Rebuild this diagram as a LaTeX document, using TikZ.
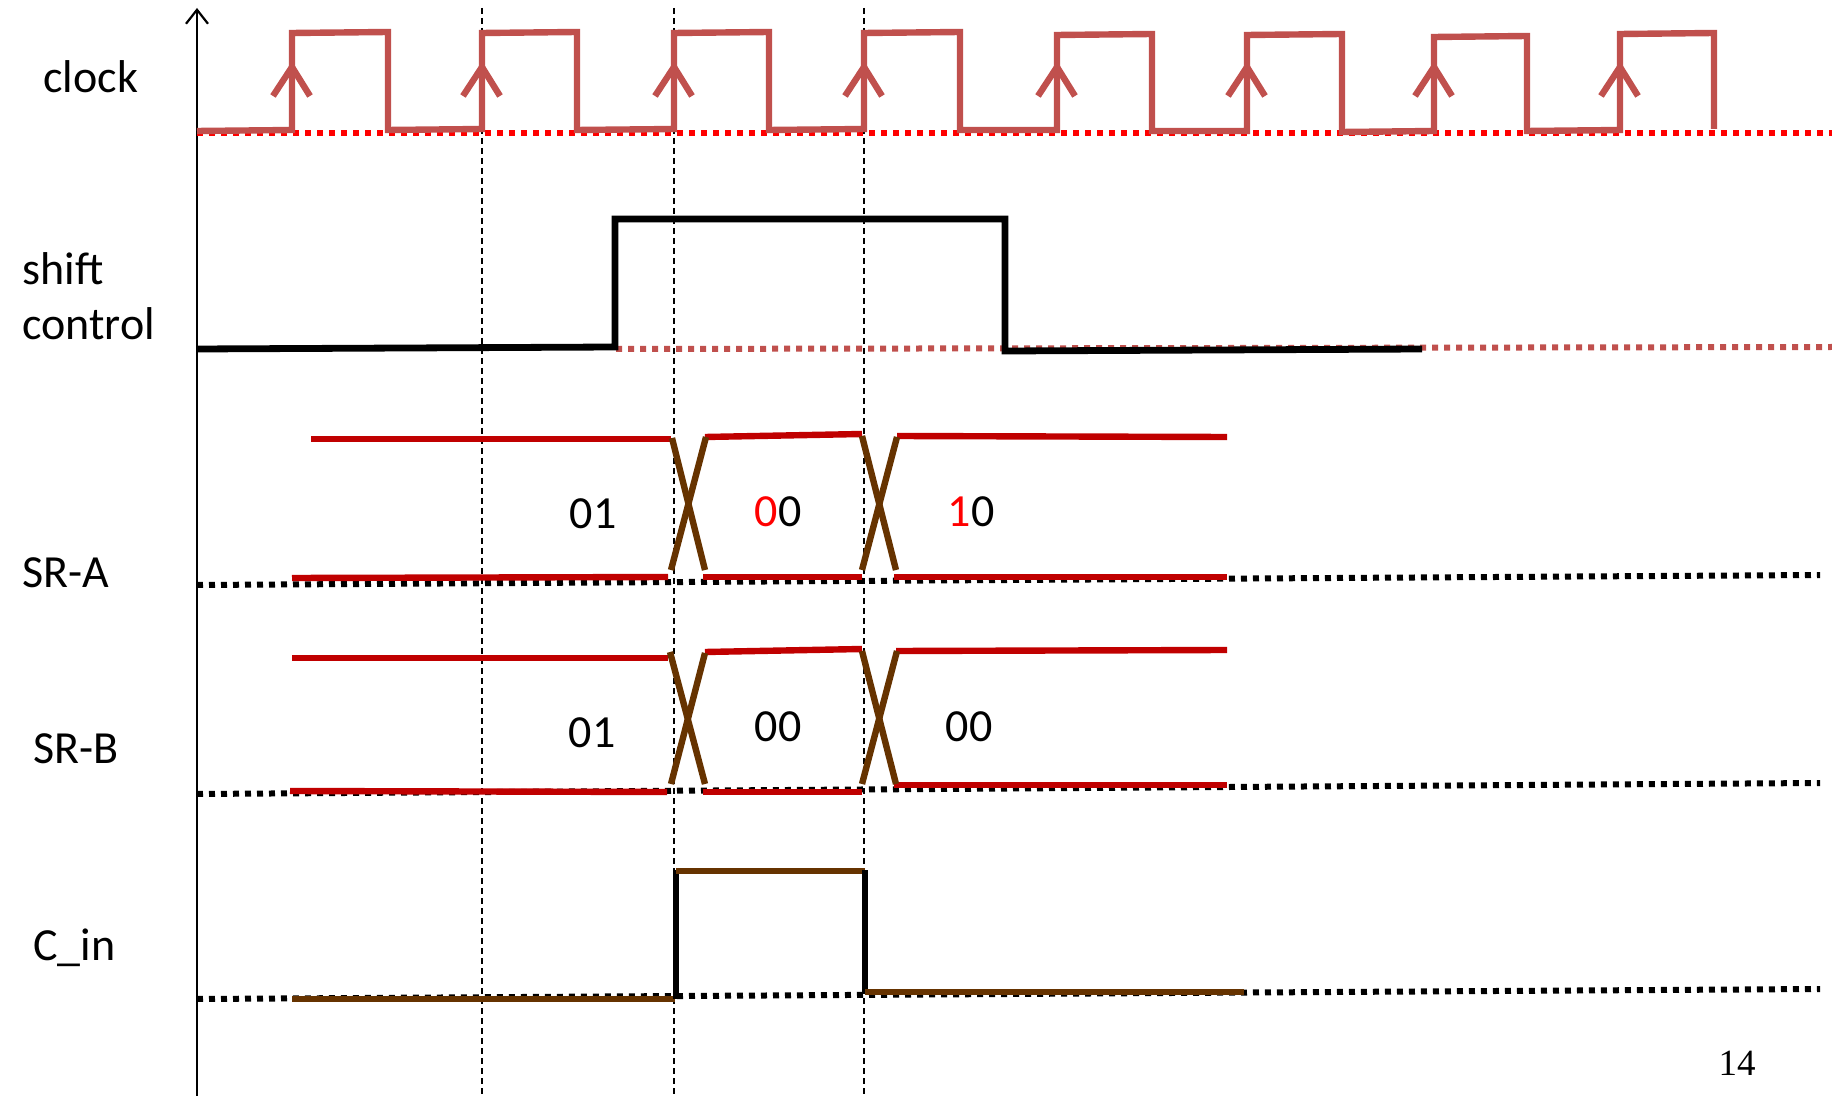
\documentclass[tikz,border=0pt]{standalone}
\usepackage{fontspec}
\setmainfont{Carlito}
\newfontfamily\timesfont{Liberation Serif}
\usetikzlibrary{arrows.meta}
\definecolor{clk}{HTML}{C0504D}
\definecolor{srred}{HTML}{C00000}
\definecolor{brn}{HTML}{663300}
\definecolor{dotred}{HTML}{FF0000}
\tikzset{
  sig/.style={line width=3.2pt},
  clkline/.style={sig, clk, line join=miter},
  srline/.style={sig, srred},
  crossline/.style={sig, brn},
  baseline dots/.style={line width=3pt, dash pattern=on 3pt off 3pt},
  guide/.style={line width=0.6pt, dash pattern=on 3pt off 2pt},
  lbl/.style={font=\fontsize{23}{27.5}\selectfont, inner sep=0pt, anchor=base west},
  val/.style={font=\fontsize{23}{27.5}\selectfont, inner sep=0pt},
}
\begin{document}
\begin{tikzpicture}[x=0.5pt,y=-0.5pt]
\useasboundingbox (0,0) rectangle (1832,1096);
% guides
\foreach \gx/\nm in {482/ga,674/gb,864/gc}{
  \coordinate (\nm t) at (\gx,8);
  \coordinate (\nm b) at (\gx,1096);
  \draw[guide] (\nm t) -- (\nm b);
}
% axis
\coordinate (axb) at (197,1096);
\coordinate (axt) at (197,8);
\draw[line width=1.1pt, -{Straight Barb[length=7pt,width=11pt]}] (axb) -- (axt);
% clock baseline
\coordinate (cb0) at (197,133);
\coordinate (cb1) at (1832,133);
\draw[baseline dots, dotred] (cb0) -- (cb1);
% clock waveform
\draw[clkline] (197,131) -- (292,130) -- (292,33) -- (388,32) -- (388,130)
  -- (482,129) -- (482,33) -- (577,32) -- (577,130)
  -- (674,129) -- (674,33) -- (769,32) -- (769,130)
  -- (864,129) -- (864,33) -- (960,32) -- (960,130)
  -- (1057,130) -- (1057,35) -- (1152,34) -- (1152,131)
  -- (1247,131) -- (1247,35) -- (1342,34) -- (1342,132)
  -- (1434,131) -- (1434,37) -- (1527,36) -- (1527,131)
  -- (1620,130) -- (1620,34) -- (1714,33) -- (1714,129);
\foreach \rx in {292,482,674,864,1057,1247,1434,1620}{
  \draw[clkline] (\rx-19,96) -- (\rx,67) -- (\rx+18,96);
}
% shift control
\coordinate (sb0) at (616,349);
\coordinate (sb1) at (1832,347);
\draw[baseline dots, clk] (sb0) -- (sb1);
\draw[sig, line width=3.4pt, black] (197,349) -- (615,347) -- (615,219) -- (1005,219) -- (1005,351) -- (1422,349);
% SR-A
\coordinate (ab0) at (197,585);
\coordinate (ab1) at (1820,575);
\draw[baseline dots, black] (ab0) -- (ab1);
\draw[srline] (311,439) -- (671,439);
\draw[srline] (705,437) -- (862,434);
\draw[srline] (897,436) -- (1227,437);
\draw[srline] (292,578) -- (668,577);
\draw[srline] (703,577) -- (862,577);
\draw[srline] (894,577) -- (1227,577);
\draw[crossline] (672,438) -- (705,570);
\draw[crossline] (671,570) -- (706,437);
\draw[crossline] (862,436) -- (896,570);
\draw[crossline] (862,570) -- (897,437);
% SR-B
\coordinate (bb0) at (197,794);
\coordinate (bb1) at (1820,783);
\draw[baseline dots, black] (bb0) -- (bb1);
\draw[srline] (292,658) -- (668,658);
\draw[srline] (705,652) -- (862,649);
\draw[srline] (896,651) -- (1227,650);
\draw[srline] (290,791) -- (667,792);
\draw[srline] (703,792) -- (862,792);
\draw[srline] (894,785) -- (1227,785);
\draw[crossline] (670,652) -- (705,784);
\draw[crossline] (671,784) -- (705,653);
\draw[crossline] (862,651) -- (896,784);
\draw[crossline] (862,784) -- (897,651);
% C_in
\coordinate (cc0) at (197,999);
\coordinate (cc1) at (1820,989);
\draw[baseline dots, black] (cc0) -- (cc1);
\draw[sig, brn] (292,999) -- (675,999);
\draw[sig, black] (676,999) -- (676,870);
\draw[sig, brn] (676,871) -- (865,871);
\draw[sig, black] (865,870) -- (865,994);
\draw[sig, brn] (865,992) -- (1244,992);
% labels
\node[lbl] (lclock) at (43,93) {clock};
\node[lbl] (lshift) at (22,285) {shift};
\node[lbl] (lcontrol) at (22,340) {control};
\node[lbl] (lsra) at (22,588) {SR-A};
\node[lbl] (lsrb) at (33,763) {SR-B};
\node[lbl] (lcin) at (33,960) {C\_in};
% values
\node[val] (va1) at (593,514) {01};
\node[val] (va2) at (778,512) {\textcolor{dotred}{0}0};
\node[val] (va3) at (971,512) {\textcolor{dotred}{1}0};
\node[val] (vb1) at (592,733) {01};
\node[val] (vb2) at (778,727) {00};
\node[val] (vb3) at (969,727) {00};
\node[font=\timesfont\fontsize{18.5}{22}\selectfont, inner sep=0pt] (pg) at (1737,1063) {14};
\end{tikzpicture}
\end{document}
